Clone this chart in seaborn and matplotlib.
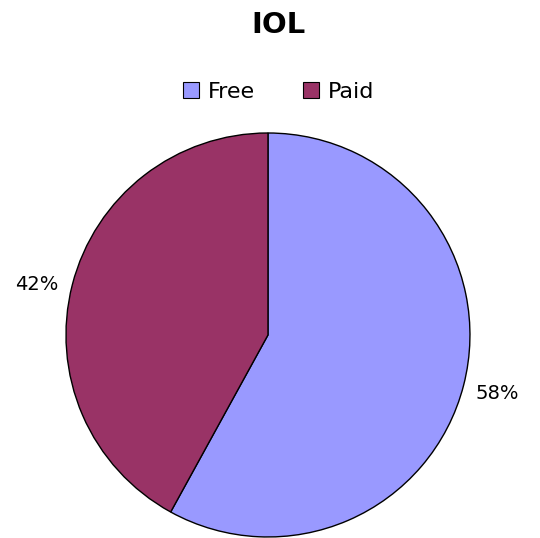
import matplotlib
matplotlib.use("Agg")
import matplotlib.pyplot as plt
from matplotlib.patches import Patch
import seaborn as sns

categories = ["Free", "Paid"]
values = [58, 42]
colors = ["#9999FF", "#993366"]
title = "IOL"

sns.set_theme(style="white")
plt.rcParams['font.family'] = ['DejaVu Sans']
plt.rcParams['text.color'] = 'black'

fig = plt.figure(figsize=(5.40, 5.38), dpi=100)
ax = fig.add_axes([0.1222, 0.0019, 0.7481, 0.7509])
wedges, texts, autotexts = ax.pie(
    values, colors=colors, startangle=90, counterclock=False,
    autopct='%1.0f%%', pctdistance=1.17,
    wedgeprops=dict(edgecolor='black', linewidth=1.0),
    textprops=dict(fontsize=14, color='black'),
)
ax.set_xlim(-1, 1)
ax.set_ylim(-1, 1)
ax.set_aspect('equal')
ax.axis('off')
for t in autotexts:
    t.set_clip_on(False)
# Excel-like placement of the left label sits slightly lower
x, y = autotexts[1].get_position()
autotexts[1].set_position((x - 0.01, y - 0.04))

fig.text(0.516, 1 - 25/538, title, ha='center', va='center', fontsize=21,
         fontweight='bold', color='black')

handles = [Patch(facecolor=c, edgecolor='black', linewidth=0.8) for c in colors]
leg = fig.legend(handles, categories, loc='center', bbox_to_anchor=(0.516, 1 - 92/538),
                 ncol=2, frameon=False, fontsize=16, handlelength=0.7, handleheight=0.7,
                 handletextpad=0.4, columnspacing=2.2)
for t in leg.get_texts():
    t.set_color('black')

fig.savefig("out.png", dpi=100)
